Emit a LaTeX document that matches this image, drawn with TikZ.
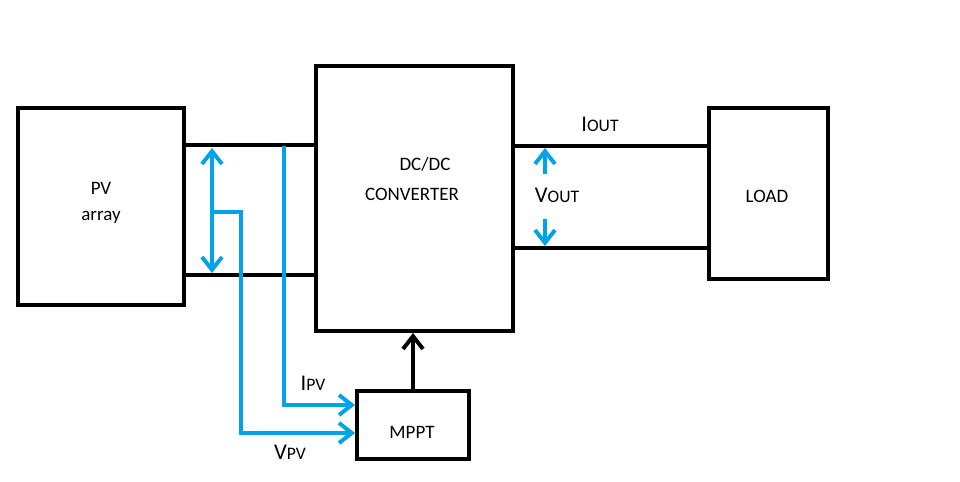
\documentclass[tikz,border=0pt]{standalone}
\usepackage{fontspec}
\setmainfont{Carlito}
\usetikzlibrary{arrows.meta}
\definecolor{sigblue}{RGB}{0,162,232}
\newcommand\mylbl[2]{{\fontsize{16}{16}\selectfont #1}{\fontsize{12.5}{12.5}\selectfont #2}}
\tikzset{
  box/.style={draw=black, line width=2.8pt, inner sep=0pt},
  wire/.style={draw=black, line width=2.8pt},
  sig/.style={draw=sigblue, line width=2.8pt},
  tip/.tip={Straight Barb[length=0.32cm,width=0.5cm,line width=2.8pt]},
  barb/.style={-tip},
  txt/.style={font=\fontsize{13.5}{18}\selectfont, inner sep=0pt},
}
\begin{document}
\begin{tikzpicture}[x=0.025cm,y=-0.025cm]
\useasboundingbox[fill=white] (0,0) rectangle (960,481);
% boxes
\node[box, minimum width=4.15cm, minimum height=4.925cm] (pv) at (101,206.5) {};
\node[box, minimum width=4.925cm, minimum height=6.625cm] (conv) at (414.5,198.5) {};
\node[box, minimum width=2.975cm, minimum height=4.275cm] (load) at (768.5,193.5) {};
\node[box, minimum width=2.8cm, minimum height=1.7cm] (mppt) at (413,425) {};
% texts
\node[txt, align=center] (pvtxt) at (101,203) {PV\\array};
\node[txt] (dcdc) at (425,164) {DC/DC};
\node[txt] (convtxt) at (412,194) {CONVERTER};
\node[txt] (loadtxt) at (767,196) {LOAD};
\node[txt] (mppttxt) at (412,432) {MPPT};
% black wires
\draw[wire] (pv.east |- 0,145) -- (conv.west |- 0,145);
\draw[wire] (pv.east |- 0,275) -- (conv.west |- 0,275);
\draw[wire] (conv.east |- 0,146) -- (load.west |- 0,146);
\draw[wire] (conv.east |- 0,248) -- (load.west |- 0,248);
\draw[wire, barb] (mppt.north) -- (mppt.north |- conv.south);
% blue signals
\coordinate (vt) at (212,148);
\coordinate (vb) at (212,273);
\coordinate (vm) at (212,212);
\draw[sig, tip-tip] (vt) -- (vb);
\draw[sig, barb] (vm) -- (241,212) -- (241,433) -- (mppt.west |- 0,433);
\coordinate (it) at (284,146);
\draw[sig, barb] (it) -- (284,405) -- (mppt.west |- 0,405);
\coordinate (vo1) at (545,174);
\coordinate (vo2) at (545,219);
\draw[sig, barb] (vo1) -- (545,148);
\draw[sig, barb] (vo2) -- (545,246);
% labels
\node[txt] (ipv) at (313,383) {\mylbl{I}{PV}};
\node[txt] (vpv) at (290,452) {\mylbl{V}{PV}};
\node[txt] (vout) at (557,195) {\mylbl{V}{OUT}};
\node[txt] (iout) at (600,124) {\mylbl{I}{OUT}};
\end{tikzpicture}
\end{document}
